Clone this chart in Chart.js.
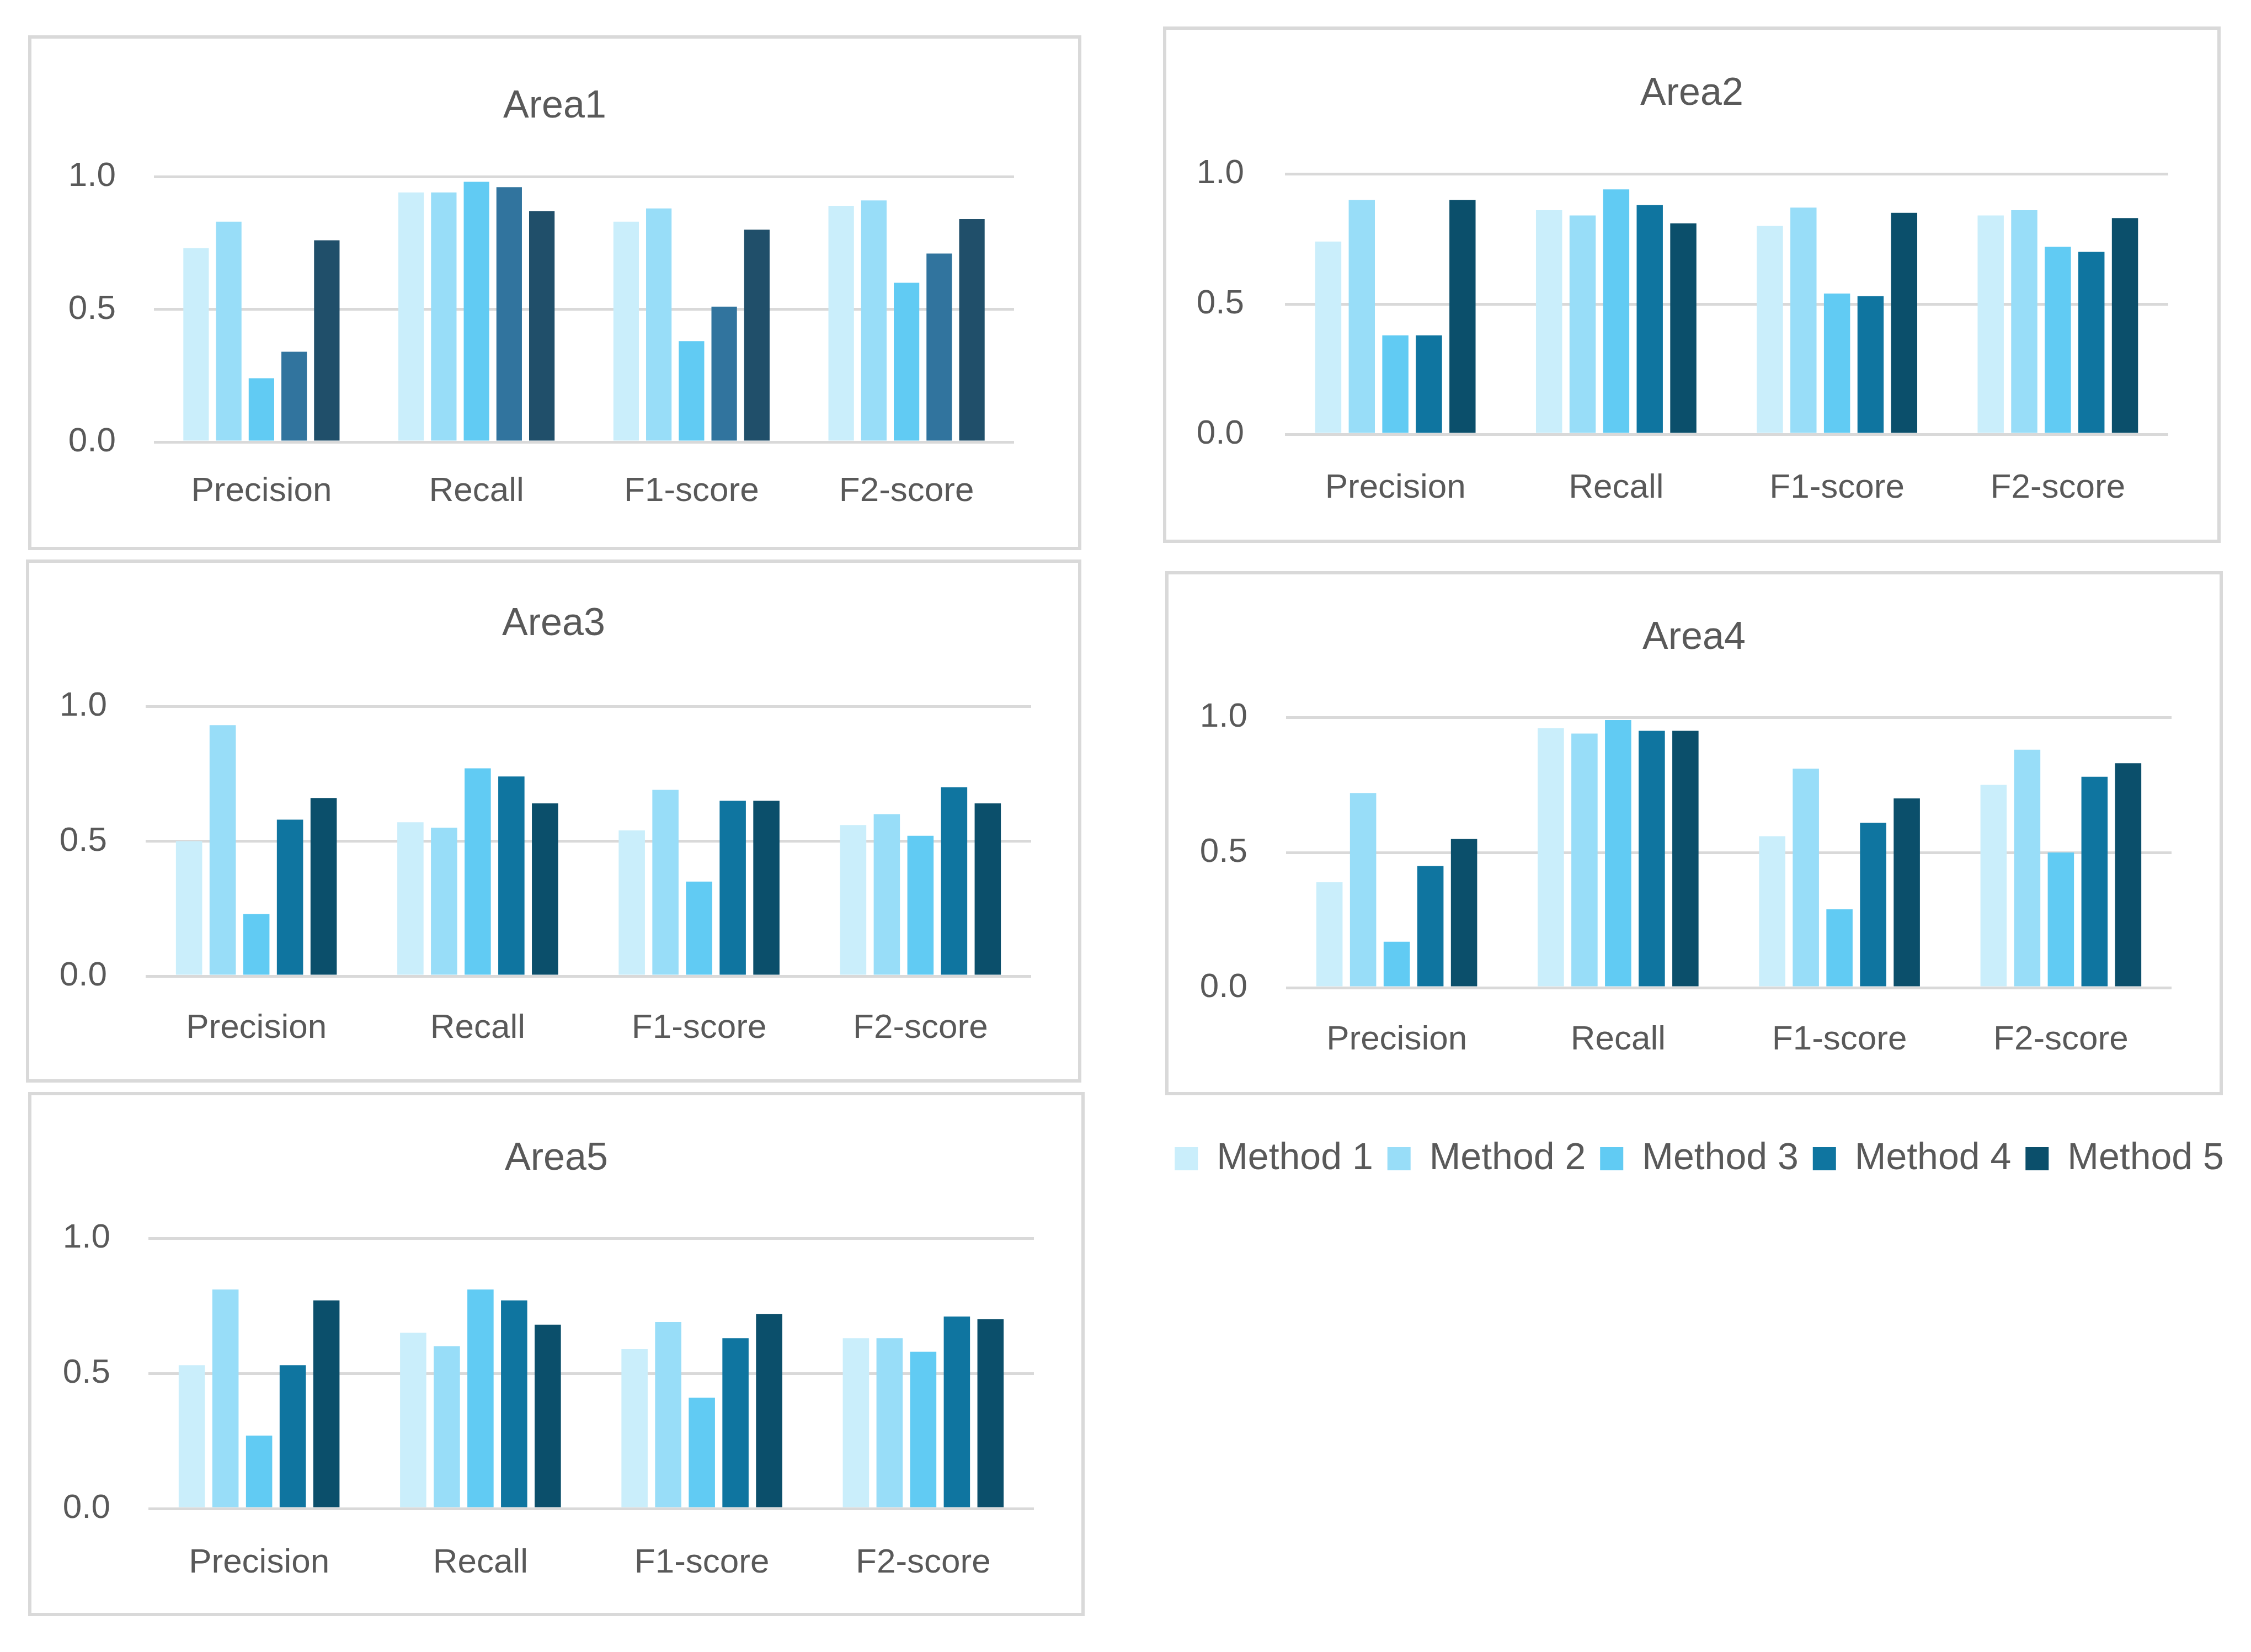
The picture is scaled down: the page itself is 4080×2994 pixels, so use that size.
<!DOCTYPE html>
<html>
<head>
<meta charset="utf-8">
<title>Area metrics</title>
<script src="https://cdn.jsdelivr.net/npm/chart.js@4.4.1/dist/chart.umd.min.js"></script>
<style>
  html, body { margin: 0; padding: 0; background: #fff; }
  body { width: 4080px; height: 2994px; position: relative; overflow: hidden; }
  .panel { position: absolute; box-sizing: border-box; border: 6px solid #d9d9d9; background: #fff; }
  .panel canvas { position: absolute; left: 0; top: 0; }
  .panel-title { position: absolute; left: 0; right: 0; text-align: center; color: #595959;
                 font-family: 'Liberation Sans', Arial, sans-serif; font-size: 70px; line-height: 84px; }
  .legend-box { position: absolute; }
</style>
</head>
<body>

<script>
/* ── Data ── */
const categories = ['Precision', 'Recall', 'F1-score', 'F2-score'];
const methods = ['Method 1', 'Method 2', 'Method 3', 'Method 4', 'Method 5'];
const areaTitles = ['Area1', 'Area2', 'Area3', 'Area4', 'Area5'];

// one row per method, one value per category
const area1 = [
  [0.73, 0.94, 0.83, 0.89],
  [0.83, 0.94, 0.88, 0.91],
  [0.24, 0.98, 0.38, 0.60],
  [0.34, 0.96, 0.51, 0.71],
  [0.76, 0.87, 0.80, 0.84]
];
const area2 = [
  [0.74, 0.86, 0.80, 0.84],
  [0.90, 0.84, 0.87, 0.86],
  [0.38, 0.94, 0.54, 0.72],
  [0.38, 0.88, 0.53, 0.70],
  [0.90, 0.81, 0.85, 0.83]
];
const area3 = [
  [0.50, 0.57, 0.54, 0.56],
  [0.93, 0.55, 0.69, 0.60],
  [0.23, 0.77, 0.35, 0.52],
  [0.58, 0.74, 0.65, 0.70],
  [0.66, 0.64, 0.65, 0.64]
];
const area4 = [
  [0.39, 0.96, 0.56, 0.75],
  [0.72, 0.94, 0.81, 0.88],
  [0.17, 0.99, 0.29, 0.50],
  [0.45, 0.95, 0.61, 0.78],
  [0.55, 0.95, 0.70, 0.83]
];
const area5 = [
  [0.53, 0.65, 0.59, 0.63],
  [0.81, 0.60, 0.69, 0.63],
  [0.27, 0.81, 0.41, 0.58],
  [0.53, 0.77, 0.63, 0.71],
  [0.77, 0.68, 0.72, 0.70]
];
const yTicks = [0, 0.5, 1.0];

/* ── Styles ── */
const methodColors = ['#caeefb', '#98ddf8', '#61cbf3', '#0f75a0', '#0b4f6b'];
const area1Colors  = ['#caeefb', '#98ddf8', '#61cbf3', '#31749e', '#204f6a'];
const TEXT = '#595959';
const GRID = '#d9d9d9';
const FONT = "'Liberation Sans', Arial, sans-serif";

Chart.defaults.font.family = FONT;
Chart.defaults.color = TEXT;

// panel boxes and target plot geometry (page pixels)
const panels = [
  { data: area1, colors: area1Colors,  box: [51, 64, 1960, 997],      grid: [279, 320, 1838, 801],    titleY: 189,  tickRight: 210,  labelY: 891 },
  { data: area2, colors: methodColors, box: [2108, 48, 4025, 984],    grid: [2329, 315, 3930, 787],   titleY: 166,  tickRight: 2255, labelY: 885 },
  { data: area3, colors: methodColors, box: [47, 1014, 1960, 1962],   grid: [264, 1280, 1869, 1769],  titleY: 1127, tickRight: 194,  labelY: 1864 },
  { data: area4, colors: methodColors, box: [2112, 1035, 4029, 1985], grid: [2331, 1300, 3936, 1790], titleY: 1152, tickRight: 2261, labelY: 1885 },
  { data: area5, colors: methodColors, box: [51, 1979, 1966, 2929],   grid: [269, 2244, 1874, 2734],  titleY: 2096, tickRight: 200,  labelY: 2833 }
];

const BORDER = 6;
const TITLE_LH = 84;
const TICK_SIZE = 62;
const LEGEND_SIZE = 68;

function makePanel(p, idx) {
  const [bl, bt, br, bb] = p.box;
  const [gl, gt, gr, gb] = p.grid;
  const il = bl + BORDER, it = bt + BORDER;
  const iw = br - bl - 2 * BORDER, ih = bb - bt - 2 * BORDER;

  const div = document.createElement('div');
  div.className = 'panel';
  div.style.left = bl + 'px';
  div.style.top = bt + 'px';
  div.style.width = (br - bl) + 'px';
  div.style.height = (bb - bt) + 'px';

  const holder = document.createElement('div');
  holder.style.position = 'absolute';
  holder.style.left = '0px';
  holder.style.top = '0px';
  holder.style.width = iw + 'px';
  holder.style.height = ih + 'px';
  const canvas = document.createElement('canvas');
  holder.appendChild(canvas);
  div.appendChild(holder);

  const title = document.createElement('div');
  title.className = 'panel-title';
  title.style.top = (p.titleY - it - TITLE_LH / 2) + 'px';
  title.textContent = areaTitles[idx];
  div.appendChild(title);

  document.body.appendChild(div);

  const tickLH = TICK_SIZE * 1.2;

  new Chart(canvas, {
    type: 'bar',
    data: {
      labels: categories,
      datasets: methods.map((m, i) => ({
        label: m,
        data: p.data[i],
        backgroundColor: p.colors[i],
        borderWidth: 0,
        categoryPercentage: 0.76,
        barPercentage: 0.78
      }))
    },
    options: {
      responsive: true,
      maintainAspectRatio: false,
      animation: false,
      layout: { padding: { top: gt - it, left: 0, right: (il + iw) - gr, bottom: 0 } },
      plugins: {
        legend: { display: false },
        tooltip: { enabled: false },
        title: { display: false }
      },
      scales: {
        x: {
          grid: { display: false, drawTicks: false },
          border: { display: false },
          ticks: { color: TEXT, font: { size: TICK_SIZE }, maxRotation: 0, autoSkip: false, padding: p.labelY - gb - tickLH / 2 },
          afterFit: s => { s.height = (it + ih) - gb; }
        },
        y: {
          min: yTicks[0],
          max: yTicks[yTicks.length - 1],
          grid: { color: GRID, lineWidth: 5, drawTicks: false },
          border: { display: false },
          afterBuildTicks: s => { s.ticks = yTicks.map(v => ({ value: v })); },
          ticks: { color: TEXT, font: { size: TICK_SIZE }, padding: gl - p.tickRight, callback: v => Number(v).toFixed(1) },
          afterFit: s => { s.width = gl - il; }
        }
      }
    }
  });
}

/* ── Shared legend ── */
function makeLegend() {
  const div = document.createElement('div');
  div.className = 'legend-box';
  div.style.left = '2080px';
  div.style.top = '2040px';
  div.style.width = '2000px';
  div.style.height = '300px';
  const canvas = document.createElement('canvas');
  div.appendChild(canvas);
  document.body.appendChild(div);

  new Chart(canvas, {
    type: 'bar',
    data: {
      labels: [],
      datasets: methods.map((m, i) => ({ label: m, data: [], backgroundColor: methodColors[i], borderWidth: 0 }))
    },
    options: {
      responsive: true,
      maintainAspectRatio: false,
      animation: false,
      plugins: {
        tooltip: { enabled: false },
        legend: {
          display: true,
          position: 'top',
          labels: { color: TEXT, font: { size: LEGEND_SIZE }, boxWidth: 42, boxHeight: 42, padding: 26 }
        }
      },
      scales: { x: { display: false }, y: { display: false } }
    }
  });
}

panels.forEach(makePanel);
makeLegend();
</script>
</body>
</html>
